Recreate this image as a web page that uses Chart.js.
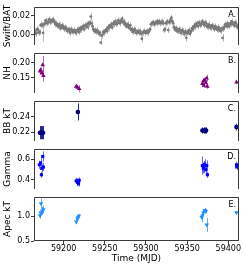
<!DOCTYPE html>
<html>
<head>
<meta charset="utf-8">
<script src="https://cdn.jsdelivr.net/npm/chart.js@4.4.0/dist/chart.umd.min.js"></script>
<style>
body{margin:0;background:#fff}
#wrap{position:relative;width:243px;height:264px}
canvas{position:absolute;left:0}
</style>
</head>
<body>
<div id="wrap">
<canvas id="panelA" width="243" height="46" style="top:3px"></canvas>
<canvas id="panelB" width="243" height="48" style="top:49px"></canvas>
<canvas id="panelC" width="243" height="48" style="top:97px"></canvas>
<canvas id="panelD" width="243" height="48" style="top:145px"></canvas>
<canvas id="panelE" width="243" height="71" style="top:193px"></canvas>
</div>
<script>
// shared time axis
const xMin = 59164
const xMax = 59413
const xTicks = [59200, 59250, 59300, 59350, 59400]

// A. Swift/BAT daily rate, starting at MJD 59165
const batStart = 59165
const batRate = [
  0.004, 0.001, 0.002, 0.006, 0.005, 0.002, 0.003, 0.010, 0.011, 0.010,
  0.002, 0.011, 0.012, 0.015, 0.014, 0.012, 0.013, 0.016, 0.015, 0.013,
  0.014, 0.015, 0.016, 0.014, 0.013, 0.011, 0.012, 0.010, 0.009, 0.011,
  0.010, 0.007, 0.008, 0.010, 0.009, 0.007, 0.006, 0.008, 0.007, 0.004,
  0.005, 0.006, 0.004, 0.002, 0.006, 0.004, 0.003, 0.005, 0.005, 0.003,
  0.002, 0.005, 0.004, 0.006, 0.003, 0.007, 0.005, 0.008, 0.007, 0.009,
  0.006, 0.010, 0.009, 0.011, 0.008, 0.012, 0.011, 0.013, 0.019, 0.012,
  0.009, 0.006, 0.004, 0.005, 0.003, 0.005, 0.004, 0.003, 0.001, 0.002,
  -0.008, -0.001, 0.000, 0.003, 0.002, 0.004, 0.005, 0.006, 0.004, 0.008,
  0.007, 0.010, 0.009, 0.011, 0.008, 0.012, 0.011, 0.014, 0.013, 0.011,
  0.012, 0.015, 0.014, 0.012, 0.013, 0.015, 0.017, 0.013, 0.014, 0.011,
  0.012, 0.009, 0.010, 0.011, 0.008, 0.007, 0.010, 0.005, 0.006, 0.003,
  0.004, 0.006, 0.005, 0.002, 0.003, 0.004, 0.002, 0.003, 0.004, 0.001,
  -0.004, 0.002, 0.003, 0.004, 0.002, 0.003, 0.004, 0.002, 0.003, 0.005,
  0.006, 0.011, 0.012, 0.013, 0.013, 0.011, 0.012, 0.013, 0.014, 0.012,
  0.013, 0.014, 0.012, 0.013, 0.013, 0.014, 0.012, 0.005, 0.006, 0.012,
  0.013, 0.014, 0.005, 0.013, 0.014, 0.016, 0.018, 0.014, 0.012, 0.008,
  0.006, 0.005, 0.007, 0.004, 0.004, 0.006, 0.005, 0.002, 0.003, 0.005,
  0.004, 0.001, 0.002, 0.004, -0.003, 0.002, 0.003, 0.005, 0.001, 0.003,
  0.004, 0.007, 0.006, 0.009, 0.008, 0.011, 0.010, 0.012, 0.009, 0.013,
  0.012, 0.010, 0.011, 0.014, 0.013, 0.011, 0.010, 0.013, 0.012, 0.009,
  0.008, 0.011, 0.010, 0.008, 0.007, 0.010, 0.009, 0.008, 0.006, 0.009,
  0.007, 0.006, 0.005, 0.008, 0.006, 0.005, 0.004, 0.007, -0.003, 0.006,
  0.008, 0.011, 0.010, 0.009, 0.012, 0.010, 0.009, 0.012, 0.011, 0.014,
  0.013, 0.011, 0.010, 0.013, 0.012, 0.009, 0.008, 0.010, 0.022
]
const batErrTypical = 0.003
const batErrLarge = {59175: 0.009, 59233: 0.004, 59245: 0.005, 59295: 0.004, 59349: 0.004, 59393: 0.004, 59413: 0.005}

// B. NH
const nhTime = [59171.3, 59172.1, 59173.4, 59174.6, 59175.4, 59215.2, 59216.8, 59218.9,
  59368.5, 59369.7, 59370.5, 59371.3, 59372.6, 59373.8, 59374.6, 59409.9]
const nhVal = [0.172, 0.176, 0.165, 0.193, 0.157, 0.121, 0.118, 0.113,
  0.130, 0.139, 0.124, 0.142, 0.133, 0.148, 0.121, 0.135]
const nhErr = [0.008, 0.008, 0.008, 0.030, 0.020, 0.008, 0.008, 0.012,
  0.010, 0.010, 0.008, 0.010, 0.010, 0.012, 0.008, 0.007]

// C. BB kT
const bbTime = [59171.3, 59172.5, 59173.8, 59175.0, 59217.3, 59368.5, 59370.0, 59371.5, 59373.0, 59409.9]
const bbVal = [0.2192, 0.2192, 0.2192, 0.2192, 0.246, 0.222, 0.222, 0.222, 0.222, 0.2264]
const bbErr = [0.0085, 0.0085, 0.0085, 0.0085, 0.011, 0.004, 0.004, 0.004, 0.004, 0.0043]

// D. Gamma
const gamTime = [59170.5, 59172.1, 59173.4, 59174.6, 59173.0, 59175.4, 59215.2, 59216.8, 59218.9, 59218.1,
  59368.5, 59369.7, 59371.3, 59372.6, 59373.8, 59374.6, 59370.5, 59409.9, 59410.3]
const gamVal = [0.545, 0.564, 0.510, 0.627, 0.447, 0.523, 0.387, 0.373, 0.392, 0.359,
  0.537, 0.510, 0.550, 0.496, 0.537, 0.447, 0.523, 0.545, 0.523]
const gamErr = [0.04, 0.05, 0.04, 0.05, 0.03, 0.04, 0.03, 0.04, 0.03, 0.03,
  0.09, 0.05, 0.05, 0.04, 0.05, 0.03, 0.06, 0.03, 0.03]

// E. Apec kT
const apecTime = [59171.3, 59172.5, 59173.8, 59175.4, 59172.1, 59215.2, 59216.8, 59218.5, 59217.7,
  59367.7, 59368.5, 59369.7, 59371.3, 59372.6, 59373.8, 59409.9]
const apecVal = [1.013, 1.259, 1.105, 1.135, 1.070, 0.889, 0.950, 1.010, 0.980,
  0.980, 1.010, 1.070, 1.120, 1.100, 0.827, 1.074]
const apecErr = [0.06, 0.10, 0.08, 0.08, 0.06, 0.05, 0.05, 0.04, 0.04,
  0.10, 0.06, 0.06, 0.05, 0.04, 0.14, 0.03]

// y ticks per panel
const aTicks = [0.00, 0.02]
const bTicks = [0.15, 0.20]
const cTicks = [0.22, 0.24]
const dTicks = [0.4, 0.6]
const eTicks = [0.5, 1.0]

Chart.defaults.font.family = 'DejaVu Sans'
Chart.defaults.color = '#000'

const toPoints = (t, v) => t.map((x, i) => ({x: x, y: v[i]}))

// vertical error bars, drawn under the markers
const errorBars = {
  id: 'errorBars',
  beforeDatasetsDraw(chart) {
    const {ctx, chartArea, scales: {x, y}} = chart
    ctx.save()
    ctx.beginPath()
    ctx.rect(chartArea.left, chartArea.top, chartArea.width, chartArea.height)
    ctx.clip()
    chart.data.datasets.forEach(ds => {
      ctx.strokeStyle = ds.errColor
      ctx.lineWidth = 1
      ds.data.forEach((p, i) => {
        const px = Math.round(x.getPixelForValue(p.x)) + 0.5
        ctx.beginPath()
        ctx.moveTo(px, y.getPixelForValue(p.y - ds.yErr[i]))
        ctx.lineTo(px, y.getPixelForValue(p.y + ds.yErr[i]))
        ctx.stroke()
      })
    })
    ctx.restore()
  }
}

// frame + panel letter
const panelBox = {
  id: 'panelBox',
  afterDraw(chart, args, opts) {
    const {ctx, chartArea: {top, bottom, left, right}} = chart
    ctx.save()
    ctx.strokeStyle = '#3a3a3a'
    ctx.lineWidth = 1
    ctx.beginPath()
    ctx.moveTo(left + 0.5, bottom)
    ctx.lineTo(left + 0.5, top + 0.5)
    ctx.lineTo(right - 0.5, top + 0.5)
    ctx.lineTo(right - 0.5, bottom)
    if (opts.last) {
      ctx.moveTo(left, bottom - 0.5)
      ctx.lineTo(right, bottom - 0.5)
    }
    ctx.stroke()
    ctx.fillStyle = '#000'
    ctx.font = '8px DejaVu Sans'
    ctx.textAlign = 'right'
    ctx.textBaseline = 'middle'
    ctx.fillText(opts.label, right - 3, top + 8)
    ctx.restore()
  }
}

function panel(id, o) {
  return new Chart(document.getElementById(id), {
    type: 'scatter',
    data: {
      datasets: [{
        data: o.points,
        yErr: o.err,
        errColor: o.errColor,
        pointStyle: o.style,
        rotation: o.rotation || 0,
        radius: o.radius,
        backgroundColor: o.color,
        borderColor: o.color,
        borderWidth: 0,
      }]
    },
    options: {
      responsive: false,
      animation: false,
      events: [],
      layout: {padding: {left: 0, right: 4, top: 0, bottom: 0}},
      plugins: {
        legend: {display: false},
        tooltip: {enabled: false},
        panelBox: {label: o.label, last: !!o.last},
      },
      scales: {
        x: {
          type: 'linear',
          min: xMin,
          max: xMax,
          display: !!o.last,
          afterBuildTicks: s => { s.ticks = xTicks.map(v => ({value: v})) },
          afterFit: s => { s.height = o.last ? 23 : 0; s.paddingLeft = 0; s.paddingRight = 0 },
          grid: {drawOnChartArea: false, tickLength: 3, color: '#3a3a3a'},
          border: {display: false},
          ticks: {font: {size: 8}, padding: 0, maxRotation: 0, callback: v => String(v)},
          title: {display: true, text: 'Time (MJD)', font: {size: 9}, padding: {top: 0, bottom: 0}},
        },
        y: {
          min: o.min,
          max: o.max,
          afterBuildTicks: s => { s.ticks = o.ticks.map(v => ({value: v})) },
          afterFit: s => { s.width = 34; s.paddingTop = 0; s.paddingBottom = 0 },
          grid: {drawOnChartArea: false, tickLength: 3, color: '#3a3a3a'},
          border: {display: false},
          ticks: {font: {size: 8}, padding: 1, callback: v => v.toFixed(o.dec)},
          title: {display: true, text: o.title, font: {size: 9}, padding: {top: 2, bottom: 0}},
        }
      }
    },
    plugins: [errorBars, panelBox]
  })
}

const batTime = batRate.map((v, i) => batStart + i)
panel('panelA', {
  points: toPoints(batTime, batRate),
  err: batTime.map(t => batErrLarge[t] || batErrTypical),
  color: '#7a7a7a', errColor: '#b8b8b8', style: 'circle', radius: 1.4,
  min: -0.0105, max: 0.029, ticks: aTicks, dec: 2, title: 'Swift/BAT', label: 'A.'
})
panel('panelB', {
  points: toPoints(nhTime, nhVal), err: nhErr,
  color: '#800080', errColor: 'rgba(128,0,128,0.55)', style: 'triangle', radius: 2.6,
  min: 0.099, max: 0.2325, ticks: bTicks, dec: 2, title: 'NH', label: 'B.'
})
panel('panelC', {
  points: toPoints(bbTime, bbVal), err: bbErr,
  color: '#000080', errColor: 'rgba(0,0,128,0.85)', style: 'circle', radius: 2.3,
  min: 0.2085, max: 0.2601, ticks: cTicks, dec: 2, title: 'BB kT', label: 'C.'
})
panel('panelD', {
  points: toPoints(gamTime, gamVal), err: gamErr,
  color: '#0000ff', errColor: 'rgba(0,0,255,0.6)', style: 'rect', radius: 2.2,
  min: 0.307, max: 0.70, ticks: dTicks, dec: 1, title: 'Gamma', label: 'D.'
})
panel('panelE', {
  points: toPoints(apecTime, apecVal), err: apecErr,
  color: '#1e90ff', errColor: 'rgba(30,144,255,0.75)', style: 'triangle', rotation: 180, radius: 2.6,
  min: 0.5, max: 1.389, ticks: eTicks, dec: 1, title: 'Apec kT', label: 'E.', last: true
})
</script>
</body>
</html>
